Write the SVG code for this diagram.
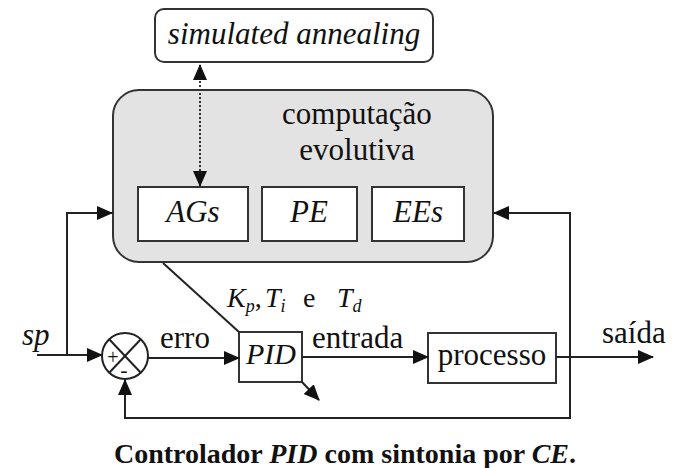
<svg xmlns="http://www.w3.org/2000/svg" width="675" height="468" viewBox="0 0 675 468">
<defs>
<marker id="ah" markerUnits="userSpaceOnUse" markerWidth="16" markerHeight="16" viewBox="0 0 16 16" refX="15" refY="8" orient="auto">
<path d="M0,1 L16,8 L0,15 Z" fill="#111"/>
</marker>
<marker id="ahs" markerUnits="userSpaceOnUse" markerWidth="16" markerHeight="16" viewBox="0 0 16 16" refX="15" refY="8" orient="auto-start-reverse">
<path d="M0,1 L16,8 L0,15 Z" fill="#111"/>
</marker>
</defs>
<rect width="675" height="468" fill="#fff"/>
<g id="sa">
<rect x="155" y="9" width="278" height="53" rx="9" fill="#fff" stroke="#333" stroke-width="2"/>
<text font-family="Liberation Serif" font-style="italic" x="294" y="44" font-size="31" fill="#111" text-anchor="middle">simulated annealing</text>
</g>
<g id="ce">
<rect x="113" y="90" width="380" height="172" rx="26" fill="#e3e3e3" stroke="#333" stroke-width="2"/>
<text font-family="Liberation Serif" font-size="31" fill="#111" x="357" y="124" text-anchor="middle">computação</text>
<text font-family="Liberation Serif" font-size="31" fill="#111" x="357" y="160" text-anchor="middle">evolutiva</text>
</g>
<g id="ags">
<rect x="138" y="187" width="110" height="54" fill="#fff" stroke="#333" stroke-width="2"/>
<text font-family="Liberation Serif" font-size="31" fill="#111" font-style="italic" x="193" y="222" text-anchor="middle">AGs</text>
</g>
<g id="pe">
<rect x="262" y="187" width="95" height="54" fill="#fff" stroke="#333" stroke-width="2"/>
<text font-family="Liberation Serif" font-size="31" fill="#111" font-style="italic" x="309" y="222" text-anchor="middle">PE</text>
</g>
<g id="ees">
<rect x="372" y="187" width="92" height="54" fill="#fff" stroke="#333" stroke-width="2"/>
<text font-family="Liberation Serif" font-size="31" fill="#111" font-style="italic" x="418" y="222" text-anchor="middle">EEs</text>
</g>
<g id="sum">
<circle cx="125" cy="356" r="23" fill="#fff" stroke="#222" stroke-width="2"/>
<line x1="109" y1="339" x2="141" y2="373" stroke="#222" stroke-width="2"/>
<line x1="141" y1="339" x2="109" y2="373" stroke="#222" stroke-width="2"/>
<text font-family="Liberation Serif" fill="#111" x="113" y="364" font-size="20" text-anchor="middle">+</text>
<text font-family="Liberation Serif" fill="#111" x="124" y="377" font-size="22" text-anchor="middle">-</text>
</g>
<g id="pid">
<rect x="239" y="332" width="63" height="50" fill="#fff" stroke="#333" stroke-width="2"/>
<text font-family="Liberation Serif" fill="#111" font-style="italic" x="271" y="364" font-size="30" text-anchor="middle">PID</text>
</g>
<g id="proc">
<rect x="428" y="333" width="128" height="50" fill="#fff" stroke="#333" stroke-width="2"/>
<text font-family="Liberation Serif" font-size="31" fill="#111" x="492" y="365" text-anchor="middle">processo</text>
</g>
<g id="connectors" fill="none" stroke="#222" stroke-width="2">
<line x1="200" y1="65" x2="200" y2="186" stroke="#333" stroke-dasharray="2,2" marker-start="url(#ahs)" marker-end="url(#ah)"/>
<polyline points="67,355 67,213 112,213" marker-end="url(#ah)"/>
<line x1="37" y1="355" x2="102" y2="355" marker-end="url(#ah)"/>
<line x1="148" y1="358" x2="239" y2="358" marker-end="url(#ah)"/>
<line x1="163" y1="263" x2="239" y2="332"/>
<line x1="302" y1="382" x2="319" y2="400" marker-end="url(#ah)"/>
<line x1="302" y1="357" x2="428" y2="357" marker-end="url(#ah)"/>
<line x1="556" y1="357" x2="653" y2="357" marker-end="url(#ah)"/>
<polyline points="570,357 570,418 125,418 125,380" marker-end="url(#ah)"/>
<polyline points="570,357 570,213 494,213" marker-end="url(#ah)"/>
</g>
<g id="labels">
<text font-family="Liberation Serif" font-size="31" fill="#111" font-style="italic" x="22" y="345">sp</text>
<text font-family="Liberation Serif" font-size="31" fill="#111" x="160" y="348">erro</text>
<text font-family="Liberation Serif" font-size="31" fill="#111" x="312" y="348">entrada</text>
<text font-family="Liberation Serif" font-size="31" fill="#111" x="602" y="343">saída</text>
<text font-family="Liberation Serif" font-size="28" fill="#111" y="307"><tspan font-style="italic" x="227">K</tspan><tspan font-style="italic" font-size="18" dy="5">p</tspan><tspan dy="-5">,</tspan><tspan font-style="italic" x="265">T</tspan><tspan font-style="italic" font-size="18" dy="5">i</tspan><tspan x="303" dy="-5">e</tspan><tspan font-style="italic" x="337">T</tspan><tspan font-style="italic" font-size="18" dy="5">d</tspan></text>
</g>
<text font-family="Liberation Serif" fill="#111" x="345" y="463" font-size="28" font-weight="bold" text-anchor="middle">Controlador <tspan font-style="italic">PID</tspan> com sintonia por <tspan font-style="italic">CE</tspan>.</text>
</svg>
